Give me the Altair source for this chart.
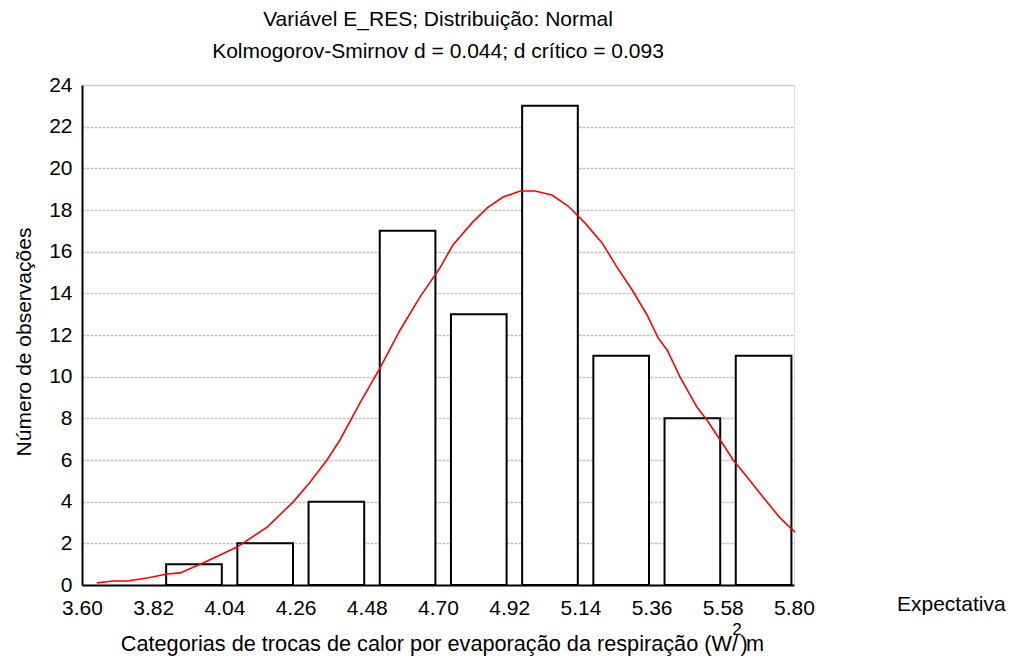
import altair as alt
import pandas as pd

# ---- data ----
bin_lo = [3.82, 4.04, 4.26, 4.48, 4.70, 4.92, 5.14, 5.36, 5.58]
bin_hi = [4.04, 4.26, 4.48, 4.70, 4.92, 5.14, 5.36, 5.58, 5.80]
counts = [1, 2, 4, 17, 13, 23, 11, 8, 11]

curve_x = [3.646, 3.696, 3.739, 3.801, 3.863, 3.903, 3.974, 4.079, 4.172, 4.252,
           4.305, 4.357, 4.397, 4.459, 4.521, 4.583, 4.644, 4.706, 4.746, 4.805,
           4.852, 4.901, 4.954, 5.000, 5.052, 5.102, 5.154, 5.207, 5.253, 5.300,
           5.346, 5.380, 5.408, 5.448, 5.500, 5.531, 5.572, 5.612, 5.655, 5.704,
           5.757, 5.803]
curve_y = [0.10, 0.19, 0.19, 0.34, 0.53, 0.58, 1.06, 1.82, 2.78, 3.98,
           4.94, 6.00, 6.96, 8.74, 10.42, 12.24, 13.82, 15.22, 16.32, 17.38,
           18.10, 18.62, 18.91, 18.91, 18.72, 18.19, 17.38, 16.42, 15.26, 14.16,
           12.96, 11.86, 11.28, 9.98, 8.54, 7.92, 6.96, 6.00, 5.18, 4.22,
           3.22, 2.54]

x_ticks = [3.60, 3.82, 4.04, 4.26, 4.48, 4.70, 4.92, 5.14, 5.36, 5.58, 5.80]
y_ticks = list(range(0, 25, 2))

title_lines = ["Variável E_RES; Distribuição: Normal",
               "Kolmogorov-Smirnov d = 0.044; d crítico = 0.093"]
x_title_main = "Categorias de trocas de calor por evaporação da respiração (W/"
x_title_m = "m"
x_title_paren = ")"
x_title_sup = "2"
y_title = "Número de observações"
legend_label = "Expectativa"

FONT = "Liberation Sans"
FS = 21

bars_df = pd.DataFrame({"lo": bin_lo, "hi": bin_hi, "n": counts})
curve_df = pd.DataFrame({"x": curve_x, "y": curve_y})

xscale = alt.Scale(domain=[3.60, 5.80], nice=False, zero=False)
yscale = alt.Scale(domain=[0, 24], nice=False)

xaxis = alt.Axis(values=x_ticks, format=".2f", grid=False, ticks=False,
                 domainColor="black", domainWidth=2, labelFontSize=FS,
                 labelFont=FONT, labelColor="black", labelPadding=12,
                 labelFlush=False, title=None)
yaxis = alt.Axis(values=y_ticks, format="d", grid=True, gridColor="#c4c4c4",
                 gridDash=[3, 1], gridWidth=1.5, ticks=False,
                 domainColor="black", domainWidth=2, labelFontSize=FS,
                 labelFont=FONT, labelColor="black", labelPadding=10,
                 title=None)

bars = alt.Chart(bars_df).transform_calculate(
    x0="datum.lo + 0.04", x1="datum.hi - 0.008"
).mark_bar(fill="white", stroke="black", strokeWidth=2).encode(
    x=alt.X("x0:Q", scale=xscale, axis=xaxis),
    x2="x1:Q",
    y=alt.Y("n:Q", scale=yscale, axis=yaxis),
    y2=alt.datum(0),
)

curve = alt.Chart(curve_df).mark_line(color="#ff0000", strokeWidth=1.6,
                                      interpolate="linear").encode(
    x=alt.X("x:Q", scale=xscale),
    y=alt.Y("y:Q", scale=yscale),
)


def label(txt, x, y, size=FS, align="left", angle=0):
    return alt.Chart(pd.DataFrame({"t": [txt]})).mark_text(
        align=align, baseline="middle", fontSize=size, font=FONT,
        color="black", angle=angle
    ).encode(x=alt.value(x), y=alt.value(y), text="t:N")


XT_Y = 559
xt_main = label(x_title_main, 656, XT_Y, size=21.7, align="right")
xt_m = label(x_title_m, 664, XT_Y, size=21.7, align="left")
xt_paren = label(x_title_paren, 662, XT_Y, size=21.7, align="center")
xt_sup = label(x_title_sup, 655, XT_Y - 14, size=17, align="center")
yt = label(y_title, -57, 257, size=FS, align="center", angle=270)
leg = label(legend_label, 815, 520, size=FS, align="left")

chart = alt.layer(bars, curve, xt_main, xt_m, xt_paren, xt_sup, yt, leg).properties(
    width=712, height=500,
    title=alt.TitleParams(title_lines, anchor="middle", fontSize=FS, font=FONT,
                          fontWeight="normal", color="black", lineHeight=32,
                          offset=12),
    autosize=alt.AutoSizeParams(type="none"),
    padding={"left": 74, "top": 77, "right": 213, "bottom": 72},
).configure_view(stroke=None).configure(background="white")

chart.save("out.html", embed_options={"renderer": "svg", "actions": False})
